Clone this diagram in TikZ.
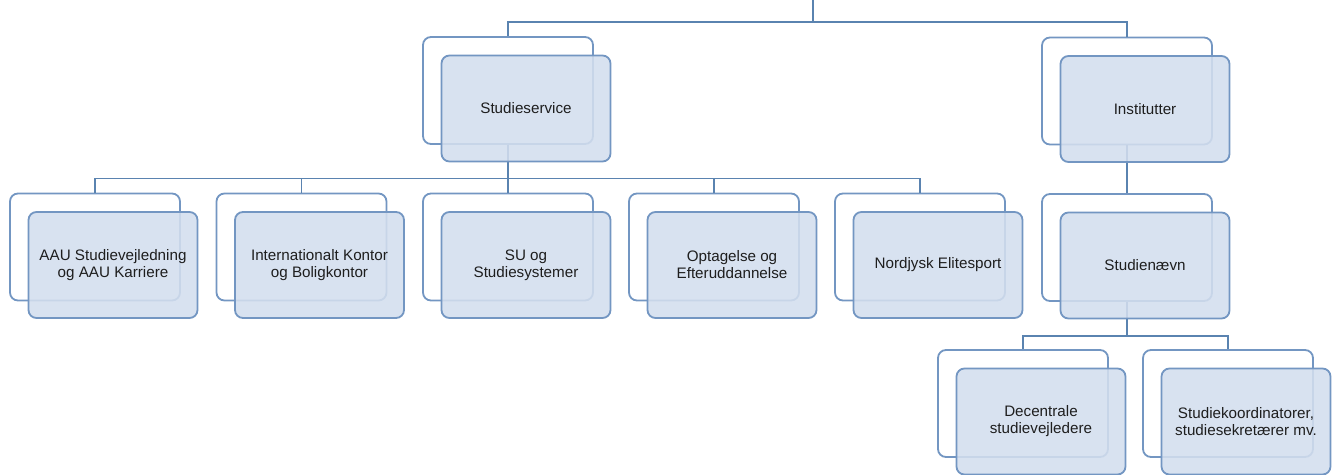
\documentclass[tikz,border=0pt]{standalone}
\usepackage{fontspec}
\setmainfont{Liberation Sans}
\usepackage{tikz}
\usetikzlibrary{arrows,positioning,calc}
\definecolor{orgline}{HTML}{5A83B0}
\definecolor{orgedge}{HTML}{7396C2}
\definecolor{orgfill}{HTML}{D3DEEE}
\definecolor{orgtext}{HTML}{1E1E1E}

\begin{document}
\begin{tikzpicture}[x=1pt,y=-1pt,
		backbox/.style={draw=orgedge, line width=1.8pt, fill=white, rounded corners=8pt, minimum width=170pt, minimum height=107pt, inner sep=0pt},
		frontbox/.style={draw=orgedge, line width=1.8pt, fill=orgfill, fill opacity=0.88, text opacity=1, rounded corners=8pt, minimum width=169pt, minimum height=106pt, inner sep=2pt, align=center, text=orgtext, font=\fontsize{15.2}{17}\selectfont},
		link/.style={draw=orgline, line width=1.8pt}]
		\useasboundingbox (0,0) rectangle (1338,474);
		\coordinate (root) at (813,0);
		% back frames
		\node [backbox](ssB) at (508,90.5) {};
		\node [backbox](instB) at (1127,91) {};
		\node [backbox](aauB) at (95,247) {};
		\node [backbox](intB) at (301.5,247) {};
		\node [backbox](suB) at (508,247) {};
		\node [backbox](optB) at (714,247) {};
		\node [backbox](eliteB) at (920,247) {};
		\node [backbox](snB) at (1127,247.5) {};
		\node [backbox](decB) at (1023,403.5) {};
		\node [backbox](skB) at (1228,403.5) {};
		% connectors
		\draw [link] (root) -- ++(0,22) -| (ssB.north);
		\draw [link] (root) -- ++(0,22) -| (instB.north);
		\draw [link] (ssB.south) -- ++(0,33.5) -| (aauB.north);
		\draw [link] (ssB.south) -- ++(0,33.5) -| (intB.north);
		\draw [link] (ssB.south) -- (suB.north);
		\draw [link] (ssB.south) -- ++(0,33.5) -| (optB.north);
		\draw [link] (ssB.south) -- ++(0,33.5) -| (eliteB.north);
		\draw [link] (instB.south) -- (snB.north);
		\draw [link] (snB.south) -- ++(0,34) -| (decB.north);
		\draw [link] (snB.south) -- ++(0,34) -| (skB.north);
		% front boxes
		\node [frontbox](ss) at ([shift={(18,18)}]ssB) {Studieservice};
		\node [frontbox](inst) at ([shift={(18,18)}]instB) {Institutter};
		\node [frontbox](aau) at ([shift={(18,18)}]aauB) {AAU Studievejledning\\og AAU Karriere};
		\node [frontbox](int) at ([shift={(18,18)}]intB) {Internationalt Kontor\\og Boligkontor};
		\node [frontbox](su) at ([shift={(18,18)}]suB) {SU og\\Studiesystemer};
		\node [frontbox](opt) at ([shift={(18,18)}]optB) {Optagelse og\\Efteruddannelse};
		\node [frontbox](elite) at ([shift={(18,18)}]eliteB) {Nordjysk Elitesport};
		\node [frontbox](sn) at ([shift={(18,18)}]snB) {Studien\ae vn};
		\node [frontbox](dec) at ([shift={(18,18)}]decB) {Decentrale\\studievejledere};
		\node [frontbox](sk) at ([shift={(18,18)}]skB) {Studiekoordinatorer,\\studiesekret\ae rer mv.};
		\end{tikzpicture}
\end{document}
